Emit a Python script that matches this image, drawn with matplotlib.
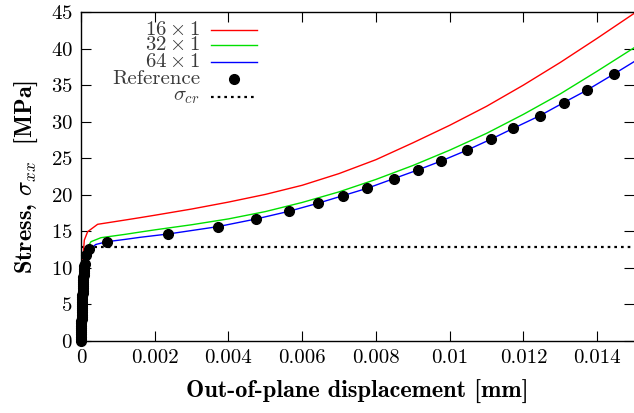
import numpy as np
import matplotlib
matplotlib.use('Agg')
import matplotlib.pyplot as plt
from matplotlib.lines import Line2D

plt.rcParams['font.family'] = ['cmr10', 'DejaVu Serif']
plt.rcParams['mathtext.fontset'] = 'cm'
plt.rcParams['axes.unicode_minus'] = False
plt.rcParams['axes.formatter.use_mathtext'] = True

# ── data ──────────────────────────────────────────────────────────
x_16 = [0, 0.00005, 0.00009, 0.00018, 0.00045, 0.0012, 0.0016, 0.002, 0.003, 0.004,
        0.005, 0.006, 0.007, 0.008, 0.009, 0.010, 0.011, 0.012, 0.013, 0.014, 0.015]
y_16 = [0, 11.1, 13.8, 14.95, 15.96, 16.55, 16.87, 17.2, 18.05, 19.0,
        20.05, 21.3, 22.9, 24.8, 27.1, 29.5, 32.1, 35.0, 38.1, 41.4, 44.8]

x_32 = [0, 0.00005, 0.0001, 0.000136, 0.00027, 0.00054, 0.0012, 0.0016, 0.002, 0.003,
        0.004, 0.005, 0.006, 0.007, 0.008, 0.009, 0.010, 0.011, 0.012, 0.013, 0.014, 0.015]
y_32 = [0, 10.2, 11.8, 12.45, 13.58, 14.13, 14.59, 14.9, 15.2, 15.9,
        16.7, 17.7, 18.95, 20.4, 22.1, 24.0, 26.1, 28.4, 31.0, 33.8, 36.9, 40.1]

x_64 = [0, 0.00004, 0.0001, 0.00014, 0.00023, 0.0004, 0.0007, 0.0012, 0.0016, 0.00237,
        0.00371, 0.00475, 0.00564, 0.00642, 0.00712, 0.00777, 0.00848, 0.00914, 0.00976,
        0.01047, 0.01112, 0.01173, 0.01244, 0.01309, 0.01372, 0.01445, 0.015]
y_64 = [0, 9.0, 11.3, 11.8, 12.5, 13.2, 13.58, 13.9, 14.18, 14.64,
        15.64, 16.69, 17.74, 18.83, 19.9, 20.9, 22.2, 23.4, 24.6,
        26.1, 27.6, 29.1, 30.8, 32.6, 34.3, 36.5, 38.2]

x_ref = [0, 0.000001, 0.000003, 0.000004, 0.000006, 0.000007, 0.000009, 0.00001,
         0.000012, 0.000013, 0.000015, 0.000017, 0.000019, 0.000021, 0.000023, 0.000025,
         0.000027, 0.000029, 0.000031, 0.000033, 0.000035, 0.000038, 0.000041, 0.000044,
         0.000047, 0.00005, 0.000053, 0.000057, 0.000061, 0.000065, 0.000069, 0.000074,
         0.000079, 0.000085, 0.000091, 0.0001, 0.000136, 0.000226, 0.0007,
         0.00237, 0.00371, 0.00475, 0.00564, 0.00642, 0.00712, 0.00777, 0.00848,
         0.00914, 0.00976, 0.01047, 0.01112, 0.01173, 0.01244, 0.01309, 0.01372, 0.01445]
y_ref = [0, 0.3, 0.6, 0.9, 1.2, 1.5, 1.8, 2.1,
         2.4, 2.7, 3.0, 3.3, 3.6, 3.9, 4.2, 4.5,
         4.8, 5.1, 5.4, 5.7, 6.0, 6.3, 6.6, 6.9,
         7.2, 7.5, 7.8, 8.1, 8.4, 8.7, 9.0, 9.3,
         9.6, 9.9, 10.2, 10.6, 11.76, 12.54, 13.58,
         14.64, 15.64, 16.69, 17.74, 18.83, 19.9, 20.9, 22.2,
         23.4, 24.6, 26.1, 27.6, 29.1, 30.8, 32.6, 34.3, 36.5]

sigma_cr = 12.86

x_ticks = [0, 0.002, 0.004, 0.006, 0.008, 0.01, 0.012, 0.014]
x_ticklabels = ['0', '0.002', '0.004', '0.006', '0.008', '0.01', '0.012', '0.014']
y_ticks = [0, 5, 10, 15, 20, 25, 30, 35, 40, 45]

labels = [r'$16 \times 1$', r'$32 \times 1$', r'$64 \times 1$', 'Reference', r'$\sigma_{cr}$']
RED, GREEN, BLUE = '#ff0000', '#00e000', '#0000ff'

# ── figure ─────────────────────────────────────────────────────────
fig = plt.figure(figsize=(6.34, 4.13), dpi=100)
ax = fig.add_axes([81/634, 1 - 341/413, 1 - 81/634, (341 - 12)/413])

DOT = dict(color='black', lw=1.6, dashes=(1.2, 1.8))
ax.axhline(sigma_cr, **DOT, zorder=1)
ax.plot(x_16, y_16, color=RED, lw=1, zorder=2)
ax.plot(x_32, y_32, color=GREEN, lw=1, zorder=2)
ax.plot(x_64, y_64, color=BLUE, lw=1, zorder=3)
ax.plot(x_ref, y_ref, 'o', color='black', ms=7, zorder=4, clip_on=False)

ax.set_xlim(0, 0.015)
ax.set_ylim(0, 45)
ax.set_xticks(x_ticks)
ax.set_xticklabels(x_ticklabels)
ax.set_yticks(y_ticks)
ax.tick_params(direction='in', length=7, width=0.8, top=True, right=True,
               labelsize=15, pad=6)
for s in ax.spines.values():
    s.set_linewidth(1.0)
ax.spines['right'].set_visible(False)

ax.set_xlabel('Out-of-plane displacement [mm]', fontfamily='cmb10', fontsize=17.5, labelpad=9)
ax.set_ylabel(r'Stress, $\sigma_{xx}$  [MPa]', fontfamily='cmb10', fontsize=17.5, labelpad=8)

# gnuplot-like key: right aligned text, sample on the right
rows = [0.945, 0.9, 0.848, 0.796, 0.742]
styles = [dict(color=RED, lw=1), dict(color=GREEN, lw=1), dict(color=BLUE, lw=1),
          None, DOT]
for r, lab, st in zip(rows, labels, styles):
    ax.text(0.215, r, lab, transform=ax.transAxes, ha='right', va='center',
            fontsize=15, color='#3a3a3a')
    if st is None:
        ax.add_line(Line2D([0.277], [r], marker='o', color='black', ms=7,
                           transform=ax.transAxes))
    else:
        ax.add_line(Line2D([0.235, 0.318], [r, r], transform=ax.transAxes, **st))

fig.savefig('out.png', dpi=100)
